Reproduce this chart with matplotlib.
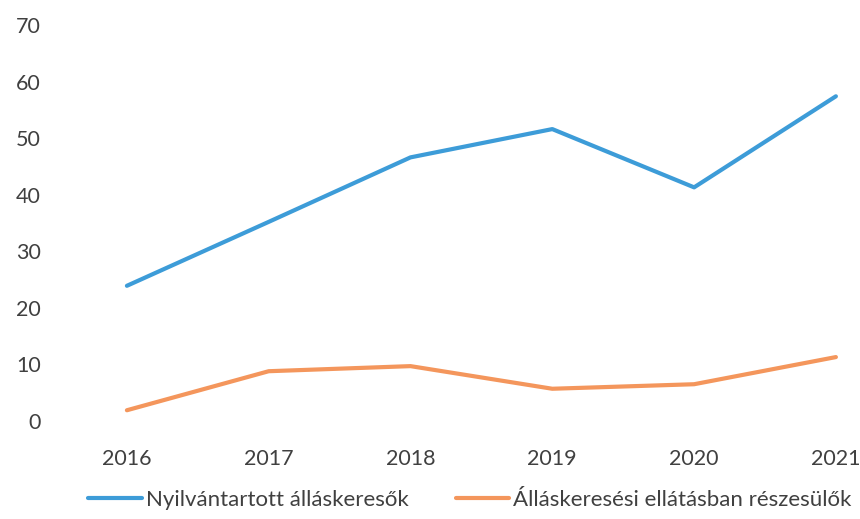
import matplotlib
matplotlib.use("Agg")
import matplotlib.pyplot as plt

years = ["2016", "2017", "2018", "2019", "2020", "2021"]
registered = [23.9, 35.2, 46.6, 51.6, 41.3, 57.4]
benefits = [1.9, 8.8, 9.7, 5.7, 6.5, 11.3]
series_names = ["Nyilvántartott álláskeresők", "Álláskeresési ellátásban részesülők"]
y_ticks = [0, 10, 20, 30, 40, 50, 60, 70]

plt.rcParams['font.family'] = ['Lato', 'DejaVu Sans']
text_color = '#404040'

fig = plt.figure(figsize=(8.6, 5.19), dpi=100)
ax = fig.add_axes([56/860, 98/519, 1 - 56/860, 396/519])
x = list(range(len(years)))
ax.plot(x, registered, color='#3D9CD8', lw=3.0, solid_capstyle='round', label=series_names[0])
ax.plot(x, benefits, color='#F4965C', lw=3.0, solid_capstyle='round', label=series_names[1])

ax.set_xlim(-0.5, 5.17)
ax.set_ylim(0, 70)
ax.set_yticks(y_ticks)
ax.set_xticks(x)
ax.set_xticklabels(years)
for s in ax.spines.values():
    s.set_visible(False)
ax.tick_params(axis='both', length=0, labelsize=15.5, colors=text_color)
ax.tick_params(axis='y', pad=11)
ax.tick_params(axis='x', pad=20)

fig.legend(loc='center', bbox_to_anchor=(470/860, 1 - 500/519), ncol=2, frameon=False,
           fontsize=16, labelcolor=text_color, handlelength=2.4, handletextpad=0.2,
           columnspacing=2.1)

fig.savefig('out.png', dpi=100)
